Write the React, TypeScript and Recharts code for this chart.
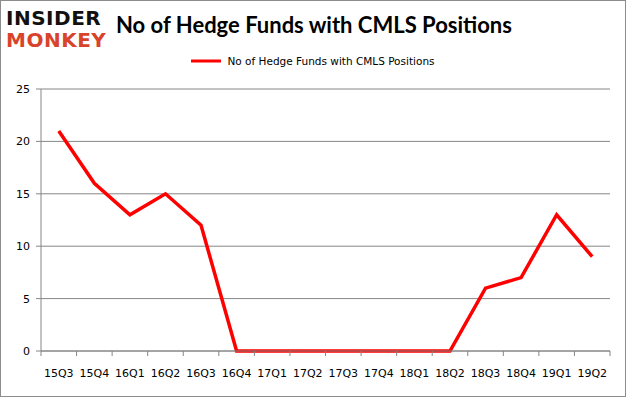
import { CartesianGrid, Legend, Line, LineChart, XAxis, YAxis } from "recharts";

const quarters = [
  "15Q3", "15Q4", "16Q1", "16Q2", "16Q3", "16Q4", "17Q1", "17Q2",
  "17Q3", "17Q4", "18Q1", "18Q2", "18Q3", "18Q4", "19Q1", "19Q2",
];
const hedgeFunds = [21, 16, 13, 15, 12, 0, 0, 0, 0, 0, 0, 0, 6, 7, 13, 9];
const yTicks = [0, 5, 10, 15, 20, 25];
const seriesName = "No of Hedge Funds with CMLS Positions";

const W = 626;
const H = 397;
const PLOT_LEFT = 41;
const PLOT_RIGHT = 16;
const STEP = (W - PLOT_LEFT - PLOT_RIGHT) / quarters.length;

const data = quarters.map((q, i) => ({ q, value: hedgeFunds[i] }));

function XTick(props: any) {
  const { x, y, payload, index } = props;
  const left = x - STEP / 2;
  return (
    <g>
      <line x1={left} x2={left} y1={y - 8} y2={y - 3} stroke="#868686" />
      {index === quarters.length - 1 && (
        <line x1={x + STEP / 2} x2={x + STEP / 2} y1={y - 8} y2={y - 3} stroke="#868686" />
      )}
      <text x={x} y={y + 18} textAnchor="middle" fontSize={11} fill="#000" fontFamily="DejaVu Sans">
        {payload.value}
      </text>
    </g>
  );
}

function LegendBox() {
  return (
    <div style={{ display: "flex", alignItems: "center", justifyContent: "center", height: 12 }}>
      <svg width={31} height={8}>
        <line x1={0} x2={30} y1={4} y2={4} stroke="#ff0000" strokeWidth={3} />
      </svg>
      <span style={{ fontSize: 10.5, fontFamily: "DejaVu Sans", color: "#000", marginLeft: 5 }}>
        {seriesName}
      </span>
    </div>
  );
}

export default function App() {
  return (
    <div
      style={{
        position: "absolute",
        left: 0,
        top: 0,
        width: W,
        height: H,
        boxSizing: "border-box",
        border: "1px solid #8c8c8c",
        background: "#fff",
        overflow: "hidden",
      }}
    >
      <div style={{ position: "absolute", left: 5, top: 7, fontFamily: "DejaVu Sans", fontWeight: 900, fontSize: 20, lineHeight: "20px", color: "#111", letterSpacing: 0.5 }}>
        INSIDER
      </div>
      <div style={{ position: "absolute", left: 5, top: 29, fontFamily: "DejaVu Sans", fontWeight: 900, fontSize: 20, lineHeight: "20px", color: "#d9432b", letterSpacing: 0.5 }}>
        MONKEY
      </div>
      <div
        style={{
          position: "absolute",
          left: 115,
          top: 10,
          fontFamily: "Lato",
          fontWeight: 700,
          fontSize: 22,
          color: "#000",
        }}
      >
        No of Hedge Funds with CMLS Positions
      </div>
      <LineChart
        width={W - 2}
        height={H - 2}
        data={data}
        margin={{ top: 76, right: PLOT_RIGHT - 1, bottom: 0, left: 0 }}
      >
        <CartesianGrid vertical={false} stroke="#868686" />
        <XAxis
          dataKey="q"
          scale="band"
          height={45}
          stroke="#868686"
          tickLine={false}
          tick={<XTick />}
          interval={0}
        />
        <YAxis
          width={PLOT_LEFT - 1}
          domain={[0, 25]}
          ticks={yTicks}
          stroke="#868686"
          tickSize={5}
          tickMargin={6}
          tick={{ fontSize: 11, fill: "#000", fontFamily: "DejaVu Sans" }}
        />
        <Legend
          verticalAlign="top"
          height={12}
          content={<LegendBox />}
          wrapperStyle={{ top: 54, left: 0, width: W - 2 }}
        />
        <Line
          type="linear"
          dataKey="value"
          name={seriesName}
          stroke="#ff0000"
          strokeWidth={3.5}
          dot={false}
          isAnimationActive={false}
        />
      </LineChart>
    </div>
  );
}
